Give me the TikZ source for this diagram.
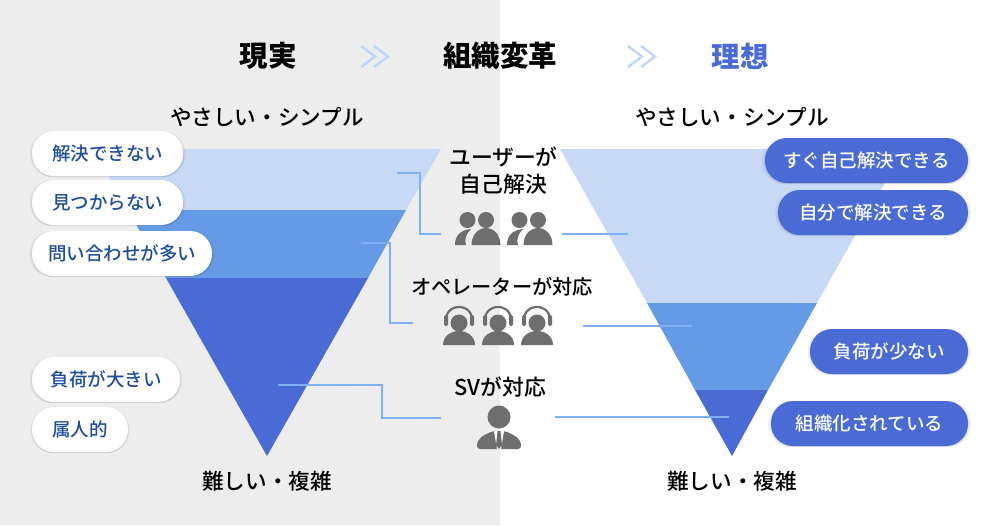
\documentclass[tikz,border=0pt]{standalone}
\usepackage{fontspec}
\setmainfont{Noto Sans CJK JP}[UprightFont=* Medium]
\usetikzlibrary{shadows}
\definecolor{pagegray}{HTML}{EDEDED}
\definecolor{funnellight}{HTML}{C7D9F5}
\definecolor{funnelmid}{HTML}{659BE6}
\definecolor{funneldark}{HTML}{4A6BD6}
\definecolor{pillblue}{HTML}{1F4E9E}
\definecolor{linkblue}{HTML}{7FB0F5}
\definecolor{chevblue}{HTML}{BFD6F8}
\definecolor{icongray}{HTML}{6E6E6E}
\tikzset{
  softshade/.style={drop shadow={shadow xshift=0pt,shadow yshift=-.5pt,shadow scale=1.03,opacity=.05,fill=black},
    drop shadow={shadow xshift=0pt,shadow yshift=-1pt,shadow scale=1.01,opacity=.07,fill=black}},
  pillbase/.style={rounded corners=22pt,minimum height=45pt,inner sep=0pt,softshade,
    font=\fontsize{18.5}{20}\selectfont},
  pillwhite/.style={pillbase,fill=white,text=pillblue},
  pilldark/.style={pillbase,fill=funneldark,text=white},
  heading/.style={font=\fontsize{28.5}{30}\selectfont\bfseries},
  sidelabel/.style={font=\fontsize{21.6}{25}\selectfont},
  roletext/.style={font=\fontsize{21.8}{27}\selectfont,align=center},
  linkline/.style={draw=linkblue,line width=2.3pt},
  chevline/.style={draw=chevblue,line width=2.4pt},
}
\begin{document}
\begin{tikzpicture}[x=1pt,y=-1pt]
  \useasboundingbox (0,0) rectangle (1000,525);
  \fill[pagegray] (0,0) rectangle (500,525);
  % left funnel
  \fill[funnellight] (93,149) -- (441,149) -- (406,210) -- (128,210) -- cycle;
  \fill[funnelmid] (128,210) -- (406,210) -- (368,278) -- (166,278) -- cycle;
  \fill[funneldark] (166,278) -- (368,278) -- (267,456) -- cycle;
  % right funnel
  \fill[funnellight] (560,149) -- (904,149) -- (817,303) -- (647,303) -- cycle;
  \fill[funnelmid] (647,303) -- (817,303) -- (768,390) -- (695,390) -- cycle;
  \fill[funneldark] (695,390) -- (768,390) -- (732,456) -- cycle;
  % headings
  \node[heading] (real) at (268,56) {現実};
  \node[heading] (change) at (500,56) {組織変革};
  \node[heading,text=funneldark] (ideal) at (740,56) {理想};
  \foreach \cx in {361,628} {
    \draw[chevline] (\cx,46) -- (\cx+14,56.5) -- (\cx,67);
    \draw[chevline] (\cx+13,46) -- (\cx+27,56.5) -- (\cx+13,67);
  }
  % funnel ends
  \node[sidelabel] (easyl) at (267,117) {やさしい・シンプル};
  \node[sidelabel] (easyr) at (732,117) {やさしい・シンプル};
  \node[sidelabel] (hardl) at (267,481) {難しい・複雑};
  \node[sidelabel] (hardr) at (732,481) {難しい・複雑};
  % roles
  \node[roletext] (selfrole) at (503.5,171) {ユーザーが\\自己解決};
  \node[roletext,font=\fontsize{20.2}{27}\selectfont] (oprole) at (502,287) {オペレーターが対応};
  \node[roletext] (svrole) at (500.5,387) {SVが対応};
  % connector ends
  \coordinate (la1) at (397,173);
  \coordinate (la2) at (441,234);
  \coordinate (lb1) at (361,243);
  \coordinate (lb2) at (413,323);
  \coordinate (lc1) at (278,385);
  \coordinate (lc2) at (441,418);
  \coordinate (ra1) at (562,234);
  \coordinate (ra2) at (628,234);
  \coordinate (rb1) at (583,326);
  \coordinate (rb2) at (692,326);
  \coordinate (rc1) at (555,417);
  \coordinate (rc2) at (729,417);
  \draw[linkline] (la1) -- (420,173) -- (420,234) -- (la2);
  \draw[linkline] (lb1) -- (390,243) -- (390,323) -- (lb2);
  \draw[linkline] (lc1) -- (382,385) -- (382,418) -- (lc2);
  \draw[linkline] (ra1) -- (ra2);
  \draw[linkline] (rb1) -- (rb2);
  \draw[linkline] (rc1) -- (rc2);
  % users
  \foreach \ux in {0,52} {
    \fill[icongray] (467.5+\ux,220) circle[radius=8];
    \fill[icongray] (486+\ux,220) circle[radius=8];
    \fill[icongray] (455+\ux,245) .. controls (455+\ux,236) and (460+\ux,230) .. (471+\ux,229)
      .. controls (466+\ux,234) and (464+\ux,240) .. (466+\ux,245) -- cycle;
    \fill[icongray] (471.5+\ux,245) .. controls (471.5+\ux,234) and (479+\ux,228) .. (486+\ux,228)
      .. controls (493+\ux,228) and (500.5+\ux,234) .. (500.5+\ux,245) -- cycle;
  }
  % operators
  \foreach \ox in {459,498,537} {
    \fill[icongray] (\ox,323) circle[radius=8.5];
    \draw[icongray,line width=2.2pt] (\ox-13,325) .. controls (\ox-15,312) and (\ox-7,307) .. (\ox,307)
      .. controls (\ox+7,307) and (\ox+15,312) .. (\ox+13,325);
    \fill[icongray,rounded corners=1.5pt] (\ox-15,315) rectangle (\ox-11,326);
    \fill[icongray,rounded corners=1.5pt] (\ox+11,315) rectangle (\ox+15,326);
    \fill[icongray] (\ox-16,345) .. controls (\ox-16,336) and (\ox-8,331) .. (\ox,331)
      .. controls (\ox+8,331) and (\ox+16,336) .. (\ox+16,345) -- cycle;
  }
  % supervisor
  \fill[icongray] (499,417) circle[radius=11.5];
  \fill[icongray,rounded corners=3pt] (477,449) .. controls (477,438) and (484,435) .. (493,431)
    -- (505,431) .. controls (514,435) and (521,438) .. (521,449) -- cycle;
  \fill[white] (494,431) -- (504,431) -- (501,449) -- (497,449) -- cycle;
  \fill[icongray] (497.5,431) -- (500.5,431) -- (501,436) -- (502,445) -- (499,449) -- (496,445) -- (497,436) -- cycle;
  % pills
  \node[pillwhite,minimum width=151pt] (nosolve) at (107.5,153.5) {解決できない};
  \node[pillwhite,minimum width=151pt] (nofind) at (107.5,202.5) {見つからない};
  \node[pillwhite,minimum width=180pt] (manyask) at (122,253.5) {問い合わせが多い};
  \node[pillwhite,minimum width=148pt] (heavy) at (106,379.5) {負荷が大きい};
  \node[pillwhite,minimum width=96pt] (person) at (80,429.5) {属人的};
  \node[pilldark,minimum width=203pt] (quick) at (866.5,160.5) {すぐ自己解決できる};
  \node[pilldark,minimum width=190pt] (selfsolve) at (873,212.5) {自分で解決できる};
  \node[pilldark,minimum width=158pt] (light) at (889,351.5) {負荷が少ない};
  \node[pilldark,minimum width=197pt] (organized) at (869.5,423.5) {組織化されている};
\end{tikzpicture}
\end{document}
